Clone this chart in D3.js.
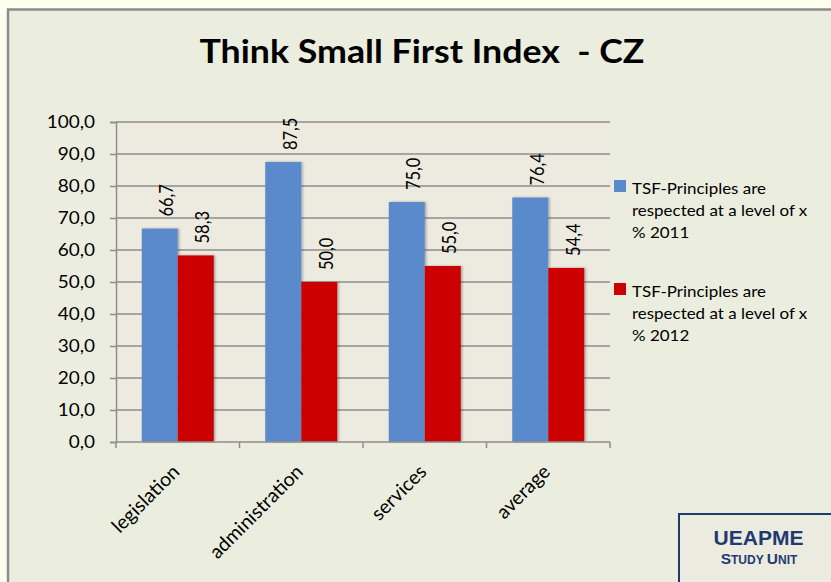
<!DOCTYPE html>
<html>
<head>
<meta charset="utf-8">
<script src="https://cdnjs.cloudflare.com/ajax/libs/d3/7.8.5/d3.min.js"></script>
<style>
  body { margin: 0; background: #FFFFEE; }
  svg { font-family: Lato, "Open Sans", sans-serif; }
</style>
</head>
<body>
<div id="chart"></div>
<script>
(function(){
	var categories = ["legislation", "administration", "services", "average"];
	var legendLines = [["TSF-Principles are", "respected at a level of x", "% 2011"],
		["TSF-Principles are", "respected at a level of x", "% 2012"]];
	var values2011 = [66.7, 87.5, 75.0, 76.4];
	var values2012 = [58.3, 50.0, 55.0, 54.4];
	var yTicks = [0, 10, 20, 30, 40, 50, 60, 70, 80, 90, 100];
	var colors = ["#5A8ACB", "#CC0000"];

	var width = 831, height = 582;
	var left = 116, right = 610, top = 122, bottom = 442;
	var sx = 1.15; // text in the picture is a bit wide

	var fmt = function(d){ return d3.format('.1f')(d).replace('.', ','); };

	var svg = d3.select('#chart').append('svg')
		.attr('width', width)
		.attr('height', height);

	// soft shadow like the office chart
	svg.append('defs').append('filter')
		.attr('id', 'shadow')
		.attr('x', '-10%').attr('y', '-5%')
		.attr('width', '130%').attr('height', '110%')
		.append('feDropShadow')
		.attr('dx', 1.5).attr('dy', 0)
		.attr('stdDeviation', 1.2)
		.attr('flood-color', '#000')
		.attr('flood-opacity', 0.3);

	// outer frame
	svg.append('rect')
		.attr('x', 8).attr('y', 9.5)
		.attr('width', width).attr('height', height)
		.attr('fill', '#EBEEDE')
		.attr('stroke', '#8C8C8C')
		.attr('stroke-width', 2.5);

	svg.append('text')
		.attr('x', 422).attr('y', 63)
		.attr('text-anchor', 'middle')
		.attr('font-size', 32)
		.attr('font-weight', 'bold')
		.attr('fill', '#000')
		.attr('textLength', 445)
		.attr('lengthAdjust', 'spacingAndGlyphs')
		.style('white-space', 'pre')
		.text("Think Small First Index  - CZ");

	var x = d3.scaleBand().domain(categories).range([left, right]);
	var y = d3.scaleLinear().domain([0, 100]).range([bottom, top]);
	var barW = 36;

	// plot area
	svg.append('rect')
		.attr('x', left).attr('y', top - 2)
		.attr('width', right - left + 3).attr('height', bottom - top + 2)
		.attr('fill', '#EDEBE0');

	svg.append('g').selectAll('line')
		.data(yTicks.slice(1))
		.enter().append('line')
		.attr('x1', left).attr('x2', right)
		.attr('y1', function(d){ return y(d); })
		.attr('y2', function(d){ return y(d); })
		.attr('stroke', '#8E8E8E')
		.attr('stroke-width', 1.5);

	// bars
	var groups = [values2011, values2012];
	groups.forEach(function(vals, si){
		var g = svg.append('g');
		g.selectAll('rect')
			.data(vals)
			.enter().append('rect')
			.attr('x', function(d, i){ return x(categories[i]) + x.bandwidth()/2 - barW + si*barW; })
			.attr('y', function(d){ return y(d); })
			.attr('width', barW)
			.attr('height', function(d){ return y(0) - y(d); })
			.attr('fill', colors[si])
			.attr('filter', 'url(#shadow)');
		g.selectAll('text')
			.data(vals)
			.enter().append('text')
			.attr('transform', function(d, i){
				var cx = x(categories[i]) + x.bandwidth()/2 - barW/2 + si*barW + 13.5;
				return 'translate(' + cx + ',' + (y(d) - 12) + ') rotate(-90) scale(1,' + sx + ')';
			})
			.attr('font-size', 16.5)
			.attr('fill', '#000')
			.text(fmt);
	});

	// y axis
	var yAxis = d3.axisLeft(y)
		.tickValues(yTicks)
		.tickSize(6)
		.tickFormat(fmt);
	var ya = svg.append('g')
		.attr('transform', 'translate(' + left + ',0)')
		.call(yAxis);
	ya.select('.domain').attr('stroke', '#8E8E8E').attr('stroke-width', 1.5);
	ya.selectAll('.tick line').attr('stroke', '#8E8E8E').attr('stroke-width', 1.5);
	ya.selectAll('.tick text')
		.attr('font-size', 16.5)
		.attr('font-family', 'Lato, "Open Sans", sans-serif')
		.attr('fill', '#000')
		.attr('x', null)
		.attr('transform', 'translate(-21,0) scale(' + sx + ',1)');

	// x axis
	var xa = svg.append('g')
		.attr('transform', 'translate(0,' + bottom + ')');
	xa.append('line')
		.attr('x1', left).attr('x2', right)
		.attr('stroke', '#8E8E8E').attr('stroke-width', 1.5);
	var edges = categories.map(function(c){ return x(c); }).concat([right]);
	xa.selectAll('.edge')
		.data(edges)
		.enter().append('line')
		.attr('x1', function(d){ return d; }).attr('x2', function(d){ return d; })
		.attr('y1', 0).attr('y2', 6)
		.attr('stroke', '#8E8E8E').attr('stroke-width', 1.5);
	xa.selectAll('text')
		.data(categories)
		.enter().append('text')
		.attr('transform', function(d){
			return 'translate(' + (x(d) + x.bandwidth()/2 + 3) + ',31) rotate(-45)';
		})
		.attr('text-anchor', 'end')
		.attr('font-size', 19.5)
		.attr('fill', '#000')
		.text(function(d){ return d; });

	// legend
	legendLines.forEach(function(lines, si){
		var ly = 180 + si * 103;
		svg.append('rect')
			.attr('x', 614).attr('y', ly)
			.attr('width', 12).attr('height', 12)
			.attr('fill', colors[si]);
		svg.append('text')
			.attr('transform', 'translate(632,' + (ly + 14) + ') scale(1.13,1)')
			.attr('font-size', 15)
			.attr('fill', '#000')
			.selectAll('tspan')
			.data(lines)
			.enter().append('tspan')
			.attr('x', 0)
			.attr('dy', function(d, i){ return i ? 22 : 0; })
			.text(function(d){ return d; });
	});

	// logo box
	svg.append('rect')
		.attr('x', 679).attr('y', 514)
		.attr('width', 170).attr('height', 100)
		.attr('fill', '#ECEBE0')
		.attr('stroke', '#1F3A70')
		.attr('stroke-width', 2);
	svg.append('text')
		.attr('x', 758.5).attr('y', 545)
		.attr('text-anchor', 'middle')
		.attr('font-family', '"Liberation Sans", Arial, sans-serif')
		.attr('font-size', 21)
		.attr('font-weight', 'bold')
		.attr('fill', '#1F3A70')
		.text('UEAPME');
	var su = svg.append('text')
		.attr('x', 759).attr('y', 564)
		.attr('text-anchor', 'middle')
		.attr('font-family', '"Liberation Sans", Arial, sans-serif')
		.attr('font-weight', 'bold')
		.attr('fill', '#1F3A70');
	su.append('tspan').attr('font-size', 15.5).text('S');
	su.append('tspan').attr('font-size', 12).text('TUDY ');
	su.append('tspan').attr('font-size', 15.5).text('U');
	su.append('tspan').attr('font-size', 12).text('NIT');
})();
</script>
</body>
</html>
